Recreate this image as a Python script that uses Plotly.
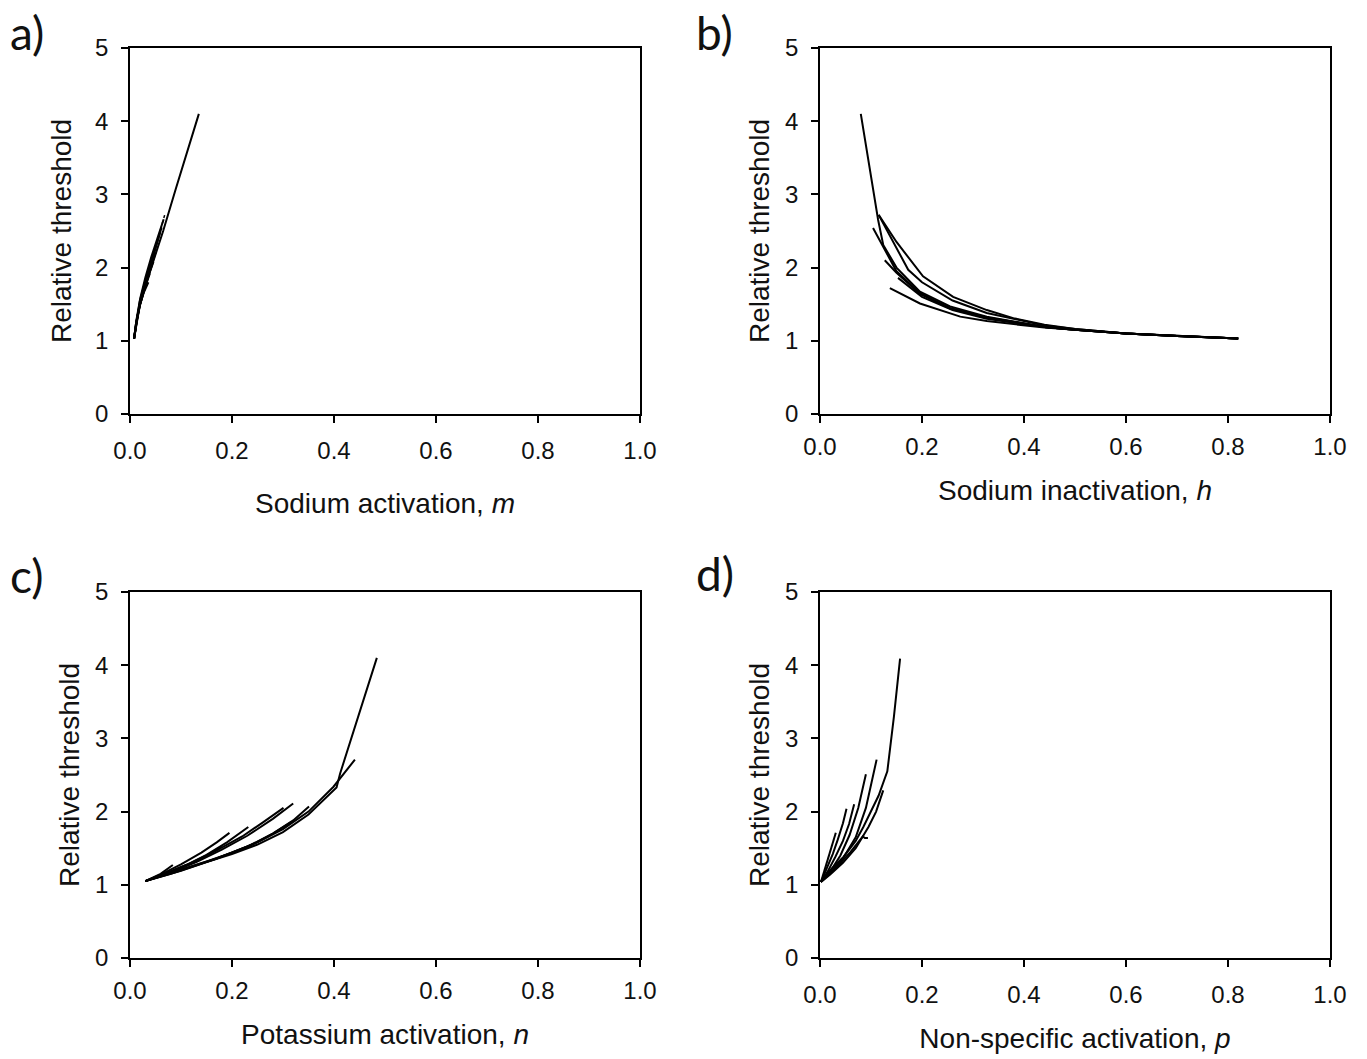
import plotly.graph_objects as go

W, H = 1367, 1059

# ---------------- data ----------------
# Panel a: sodium activation m vs relative threshold
A_M = [
    [0.008, 0.014, 0.020, 0.035, 0.050, 0.065, 0.090, 0.112, 0.135],
    [0.008, 0.013, 0.020, 0.030, 0.042, 0.054, 0.066],
    [0.008, 0.013, 0.019, 0.030, 0.043, 0.055, 0.062],
    [0.008, 0.013, 0.020, 0.031, 0.043, 0.053, 0.059],
    [0.008, 0.012, 0.019, 0.029, 0.040, 0.050],
    [0.008, 0.013, 0.020, 0.030, 0.040, 0.046],
    [0.008, 0.012, 0.018, 0.027, 0.036],
    [0.008, 0.012, 0.019, 0.029, 0.039],
]
A_T = [
    [1.03, 1.30, 1.50, 1.86, 2.18, 2.50, 3.08, 3.58, 4.10],
    [1.03, 1.30, 1.58, 1.86, 2.15, 2.42, 2.66],
    [1.03, 1.28, 1.53, 1.82, 2.12, 2.40, 2.55],
    [1.03, 1.27, 1.53, 1.80, 2.09, 2.33, 2.48],
    [1.03, 1.22, 1.48, 1.74, 1.98, 2.20],
    [1.03, 1.26, 1.52, 1.76, 1.97, 2.08],
    [1.03, 1.24, 1.46, 1.66, 1.80],
    [1.03, 1.25, 1.48, 1.72, 1.92],
]
A_DOT_M = [0.060, 0.064, 0.068]
A_DOT_T = [2.52, 2.62, 2.72]

# Panel b: sodium inactivation h vs relative threshold
B_H = [
    [0.080, 0.114, 0.124, 0.150, 0.196, 0.255, 0.327, 0.440, 0.500, 0.600, 0.700, 0.820],
    [0.115, 0.150, 0.202, 0.261, 0.327, 0.379, 0.440, 0.500, 0.600, 0.700, 0.820],
    [0.115, 0.140, 0.173, 0.200, 0.260, 0.327, 0.440, 0.500, 0.600, 0.700, 0.820],
    [0.104, 0.124, 0.150, 0.196, 0.255, 0.327, 0.440, 0.500, 0.600, 0.700, 0.820],
    [0.127, 0.150, 0.196, 0.255, 0.327, 0.440, 0.500, 0.600, 0.700, 0.820],
    [0.153, 0.200, 0.260, 0.327, 0.440, 0.500, 0.600, 0.700, 0.820],
    [0.137, 0.196, 0.275, 0.327, 0.440, 0.500, 0.600, 0.700, 0.820],
]
B_T = [
    [4.10, 2.65, 2.31, 2.00, 1.67, 1.47, 1.33, 1.19, 1.15, 1.10, 1.065, 1.03],
    [2.72, 2.35, 1.88, 1.60, 1.42, 1.31, 1.22, 1.16, 1.10, 1.065, 1.03],
    [2.72, 2.40, 1.97, 1.80, 1.55, 1.38, 1.21, 1.16, 1.10, 1.065, 1.03],
    [2.54, 2.29, 1.95, 1.65, 1.45, 1.32, 1.19, 1.15, 1.10, 1.065, 1.03],
    [2.10, 1.93, 1.64, 1.44, 1.31, 1.19, 1.15, 1.10, 1.065, 1.03],
    [1.86, 1.60, 1.42, 1.30, 1.19, 1.15, 1.10, 1.065, 1.03],
    [1.72, 1.51, 1.33, 1.27, 1.18, 1.15, 1.10, 1.065, 1.03],
]

# Panel c: potassium activation n vs relative threshold
C_N = [
    [0.030, 0.080, 0.150, 0.200, 0.250, 0.300, 0.350, 0.390, 0.405, 0.412, 0.484],
    [0.030, 0.080, 0.150, 0.200, 0.250, 0.300, 0.350, 0.399, 0.441],
    [0.030, 0.100, 0.170, 0.230, 0.280, 0.320, 0.351],
    [0.030, 0.080, 0.130, 0.180, 0.230, 0.280, 0.320],
    [0.030, 0.070, 0.120, 0.170, 0.220, 0.260, 0.301],
    [0.030, 0.070, 0.110, 0.150, 0.190, 0.232],
    [0.030, 0.060, 0.100, 0.140, 0.170, 0.195],
    [0.030, 0.100, 0.170, 0.240, 0.280, 0.317],
    [0.030, 0.060, 0.084],
    [0.030, 0.080, 0.130, 0.180],
]
C_T = [
    [1.05, 1.15, 1.31, 1.42, 1.55, 1.72, 1.96, 2.22, 2.33, 2.52, 4.10],
    [1.05, 1.16, 1.32, 1.44, 1.58, 1.76, 2.00, 2.34, 2.71],
    [1.05, 1.19, 1.36, 1.52, 1.70, 1.88, 2.07],
    [1.05, 1.17, 1.31, 1.48, 1.67, 1.90, 2.11],
    [1.05, 1.16, 1.30, 1.47, 1.66, 1.85, 2.05],
    [1.05, 1.15, 1.27, 1.41, 1.58, 1.79],
    [1.05, 1.14, 1.28, 1.44, 1.58, 1.71],
    [1.05, 1.20, 1.36, 1.55, 1.70, 1.86],
    [1.05, 1.15, 1.27],
    [1.05, 1.17, 1.32, 1.52],
]

# Panel d: non-specific activation p vs relative threshold
D_P = [
    [0.002, 0.020, 0.046, 0.070, 0.085, 0.100, 0.115, 0.132, 0.145, 0.157],
    [0.002, 0.020, 0.045, 0.070, 0.090, 0.111],
    [0.002, 0.020, 0.040, 0.058, 0.075, 0.090],
    [0.002, 0.015, 0.030, 0.045, 0.057, 0.067],
    [0.002, 0.012, 0.025, 0.035, 0.045, 0.052],
    [0.002, 0.010, 0.020, 0.031],
    [0.002, 0.020, 0.045, 0.070, 0.095, 0.110, 0.124],
    [0.002, 0.030, 0.060, 0.080, 0.084, 0.088, 0.094],
]
D_T = [
    [1.04, 1.20, 1.38, 1.60, 1.79, 2.00, 2.22, 2.55, 3.30, 4.09],
    [1.04, 1.16, 1.36, 1.65, 2.05, 2.71],
    [1.04, 1.18, 1.40, 1.68, 2.05, 2.51],
    [1.04, 1.18, 1.38, 1.60, 1.83, 2.10],
    [1.04, 1.20, 1.42, 1.62, 1.84, 2.04],
    [1.04, 1.22, 1.45, 1.71],
    [1.04, 1.14, 1.30, 1.50, 1.79, 2.00, 2.29],
    [1.04, 1.22, 1.45, 1.63, 1.66, 1.64, 1.64],
]

X_TICKS = [0.0, 0.2, 0.4, 0.6, 0.8, 1.0]
X_TICKTEXT = ["0.0", "0.2", "0.4", "0.6", "0.8", "1.0"]
Y_TICKS = [0, 1, 2, 3, 4, 5]
X_TITLES = ["Sodium activation, <i>m</i>", "Sodium inactivation, <i>h</i>",
            "Potassium activation, <i>n</i>", "Non-specific activation, <i>p</i>"]
Y_TITLE = "Relative threshold"
PANEL_LABELS = ["a)", "b)", "c)", "d)"]

# ---------------- figure ----------------
fig = go.Figure()
LINE = dict(color="black", width=2)

datasets = [(A_M, A_T), (B_H, B_T), (C_N, C_T), (D_P, D_T)]
for i, (xs, ys) in enumerate(datasets):
    suf = "" if i == 0 else str(i + 1)
    for x, y in zip(xs, ys):
        fig.add_trace(go.Scatter(x=x, y=y, mode="lines", line=LINE,
                                 xaxis="x" + suf, yaxis="y" + suf,
                                 showlegend=False, hoverinfo="skip"))
fig.add_trace(go.Scatter(x=A_DOT_M, y=A_DOT_T, mode="lines",
                         line=dict(color="black", width=1.5, dash="dot"),
                         xaxis="x", yaxis="y", showlegend=False, hoverinfo="skip"))

XL = [(130, 640), (820, 1330), (130, 640), (820, 1330)]
YT = [(48, 414), (48, 414), (592, 958), (592, 958)]
XLAB_STANDOFF = [7, 3, 3, 7]
XTITLE_STANDOFF = [31, 22, 22, 22]
YTITLE_STANDOFF = [15, 7, 7, 7]
LABEL_POS = [(8, 32), (694, 32), (8, 575), (694, 573)]

FONT_T = "Liberation Sans, Arial, sans-serif"
layout = dict(
    width=W, height=H, margin=dict(l=0, r=0, t=0, b=0),
    paper_bgcolor="white", plot_bgcolor="white",
    font=dict(family=FONT_T, color="#111111"),
)
annotations = []
for i in range(4):
    suf = "" if i == 0 else str(i + 1)
    x0, x1 = XL[i]
    t0, t1 = YT[i]
    layout["xaxis" + suf] = dict(
        domain=[x0 / W, x1 / W], anchor="y" + suf, range=[0, 1],
        tickvals=X_TICKS, ticktext=X_TICKTEXT, ticks="outside", ticklen=7,
        tickwidth=1.5, tickcolor="black", showline=True, mirror=True,
        linecolor="black", linewidth=1.5, showgrid=False, zeroline=False,
        tickfont=dict(family=FONT_T, size=24, color="#111111"),
        ticklabelstandoff=XLAB_STANDOFF[i],
        title=dict(text=X_TITLES[i], font=dict(family=FONT_T, size=28, color="#111111"),
                   standoff=XTITLE_STANDOFF[i]),
        automargin=False, fixedrange=True,
    )
    layout["yaxis" + suf] = dict(
        domain=[1 - t1 / H, 1 - t0 / H], anchor="x" + suf, range=[0, 5],
        tickvals=Y_TICKS, ticks="outside", ticklen=7,
        tickwidth=1.5, tickcolor="black", showline=True, mirror=True,
        linecolor="black", linewidth=1.5, showgrid=False, zeroline=False,
        tickfont=dict(family=FONT_T, size=24, color="#111111"),
        ticklabelstandoff=8,
        title=dict(text=Y_TITLE, font=dict(family=FONT_T, size=28, color="#111111"),
                   standoff=YTITLE_STANDOFF[i]),
        automargin=False, fixedrange=True,
    )
    lx, ly = LABEL_POS[i]
    annotations.append(dict(text=PANEL_LABELS[i], xref="paper", yref="paper",
                            x=lx / W, y=1 - ly / H, xanchor="left", yanchor="middle",
                            showarrow=False,
                            font=dict(family="Lato, Carlito, Calibri, sans-serif",
                                      size=46, color="#111111")))
layout["annotations"] = annotations
fig.update_layout(**layout)

fig.write_html("out.html")
